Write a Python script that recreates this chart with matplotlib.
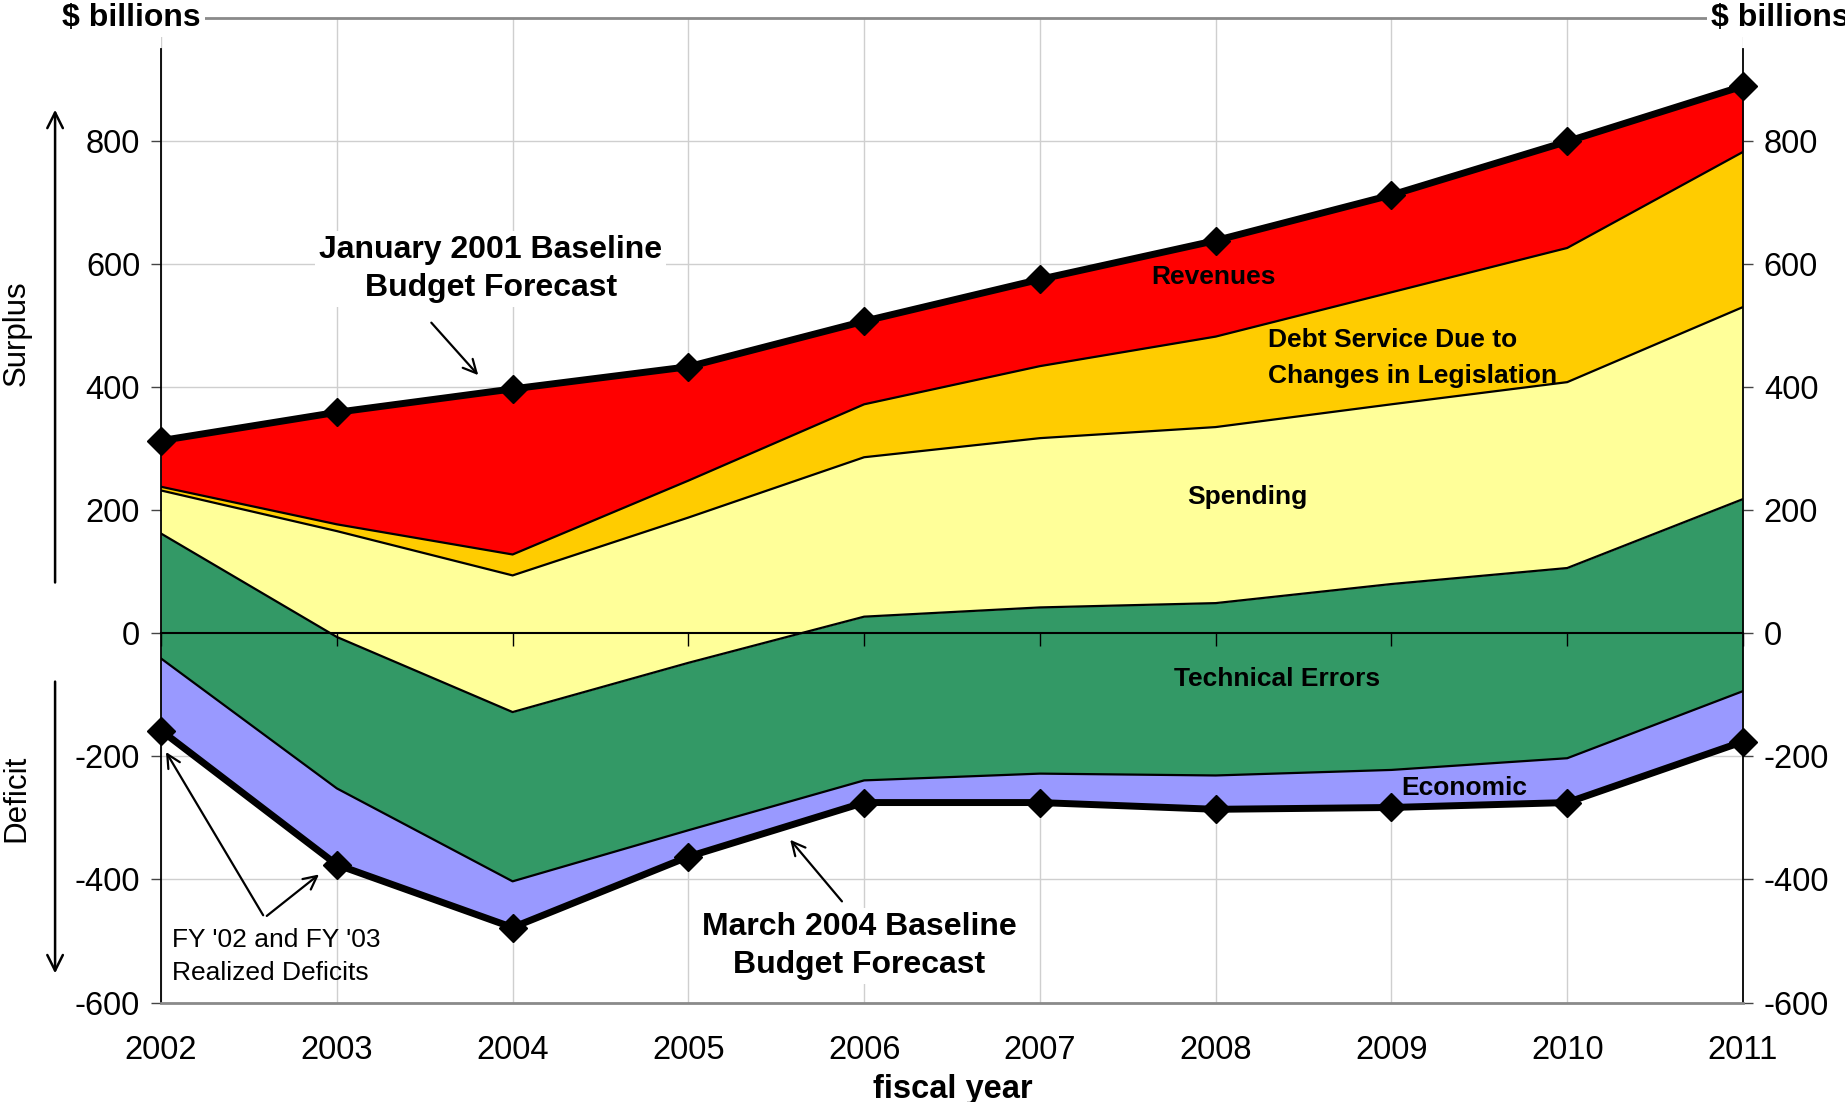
import numpy as np
import matplotlib
matplotlib.use("Agg")
import matplotlib.pyplot as plt

plt.rcParams["font.family"] = ["Liberation Sans", "DejaVu Sans"]
plt.rcParams["axes.unicode_minus"] = False

# Fiscal years and budget-balance decomposition ($ billions)
years = [2002, 2003, 2004, 2005, 2006, 2007, 2008, 2009, 2010, 2011]
march_2004 = [-158, -376, -478, -363, -275, -275, -286, -283, -275, -176]
economic = [117, 124, 75, 43, 36, 47, 55, 61, 72, 82]
technical = [203, 246, 275, 272, 266, 270, 280, 302, 309, 312]
spending = [70, 172, 222, 236, 259, 275, 286, 292, 302, 312]
debt_service = [6, 11, 34, 60, 86, 117, 147, 182, 218, 252]
revenues = [75, 182, 269, 185, 135, 141, 156, 158, 173, 107]

layer_colors = ["#9999FF", "#339966", "#FFFF99", "#FFCC00", "#FF0000"]
y_ticks = [-600, -400, -200, 0, 200, 400, 600, 800]
y_min, y_max = -600, 1000

levels = np.cumsum(np.vstack([march_2004, economic, technical, spending,
                              debt_service, revenues]), axis=0)
jan_2001 = levels[-1]

fig = plt.figure(figsize=(18.45, 11.02), dpi=100)
ax = fig.add_axes([0.0873, 0.0902, 0.8574, 0.8937])

# stacked layers between the two baselines
for i, color in enumerate(layer_colors):
    ax.fill_between(years, levels[i], levels[i + 1], color=color, lw=0, zorder=1)
for i in range(1, len(layer_colors)):
    ax.plot(years, levels[i], color="black", lw=1.6, zorder=2)

# the two baseline forecasts
for series in (levels[0], jan_2001):
    ax.plot(years, series, color="black", lw=5, marker="D", markersize=14,
            zorder=5, clip_on=False)

ax.set_xlim(years[0], years[-1])
ax.set_ylim(y_min, y_max)
ax.set_xticks(years)
ax.set_yticks(y_ticks)
ax.grid(True, color="#CFCFCF", lw=1)
ax.set_axisbelow(True)

ax.tick_params(axis="x", length=0, pad=23, labelsize=23.5)
ax.tick_params(axis="y", left=True, right=True, labelleft=True, labelright=True,
               length=7, width=1, pad=8, labelsize=23.5, color="#444444")

for side in ("top", "bottom"):
    ax.spines[side].set_color("#8A8A8A")
    ax.spines[side].set_linewidth(2)
for side in ("left", "right"):
    ax.spines[side].set_color("black")
    ax.spines[side].set_linewidth(1.3)
    ax.spines[side].set_bounds(y_min, 950)

# zero line with year ticks
zero_pos = (0 - y_min) / (y_max - y_min)
secax = ax.secondary_xaxis(zero_pos)
secax.set_xticks(years)
secax.tick_params(axis="x", length=9, width=1, direction="out", labelbottom=False)
secax.spines["bottom"].set_linewidth(1.5)
secax.spines["bottom"].set_color("black")
secax.set_zorder(3)

# unit labels on the top rule
for xpos in (2001.833, 2011.215):
    ax.text(xpos, y_max, "$ billions", ha="center", va="center", fontsize=23,
            fontweight="bold", clip_on=False, zorder=6,
            bbox=dict(fc="white", ec="none", pad=3))

# side captions with arrows
fig.text(0.0089, 0.698, "Surplus", rotation=90, ha="center", va="center", fontsize=22.5)
fig.text(0.0089, 0.276, "Deficit", rotation=90, ha="center", va="center", fontsize=22.5)
side_arrow = dict(arrowstyle="->", lw=1.8, color="black", mutation_scale=28)
ax.annotate("", xy=(2001.397, 855), xytext=(2001.397, 78),
            arrowprops=side_arrow, annotation_clip=False)
ax.annotate("", xy=(2001.397, -557), xytext=(2001.397, -74),
            arrowprops=side_arrow, annotation_clip=False)

fig.text(0.5165, 0.0115, "fiscal year", ha="center", va="center",
         fontsize=23.5, fontweight="bold")

# forecast annotations
note_arrow = dict(arrowstyle="->", lw=1.6, color="black", mutation_scale=24)
ax.text(2003.875, 592, "January 2001 Baseline\nBudget Forecast", ha="center",
        va="center", fontsize=23, fontweight="bold", linespacing=1.32, zorder=6,
        bbox=dict(fc="white", ec="none", pad=3))
ax.annotate("", xy=(2003.815, 416), xytext=(2003.527, 508), arrowprops=note_arrow)

ax.text(2005.971, -508, "March 2004 Baseline\nBudget Forecast", ha="center",
        va="center", fontsize=23, fontweight="bold", linespacing=1.32, zorder=6,
        bbox=dict(fc="white", ec="none", pad=3))
ax.annotate("", xy=(2005.569, -332), xytext=(2005.884, -439), arrowprops=note_arrow)

ax.text(2002.06, -525, "FY '02 and FY '03\nRealized Deficits", ha="left",
        va="center", fontsize=19, linespacing=1.45, zorder=6)
ax.annotate("", xy=(2002.02, -189), xytext=(2002.589, -462), arrowprops=note_arrow)
ax.annotate("", xy=(2002.911, -389), xytext=(2002.589, -462), arrowprops=note_arrow)

# layer names
label_kw = dict(fontsize=19, fontweight="bold", va="center", zorder=6)
ax.text(2007.987, 578, "Revenues", ha="center", **label_kw)
ax.text(2008.295, 447, "Debt Service Due to\nChanges in Legislation", ha="left",
        linespacing=1.6, **label_kw)
ax.text(2008.181, 221, "Spending", ha="center", **label_kw)
ax.text(2008.348, -74, "Technical Errors", ha="center", **label_kw)
ax.text(2009.413, -252, "Economic", ha="center", **label_kw)

fig.savefig("out.png", dpi=100)
